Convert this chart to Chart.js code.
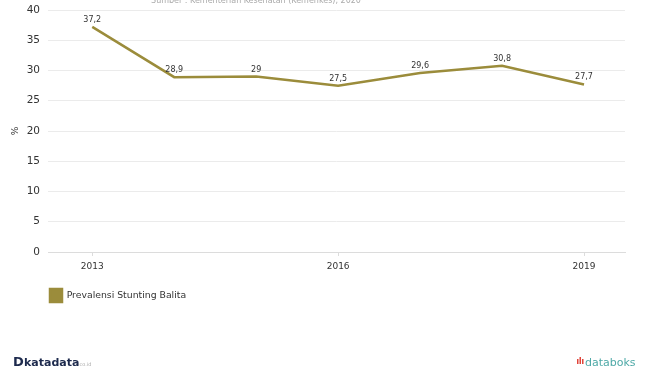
<!DOCTYPE html>
<html>
<head>
<meta charset="utf-8">
<script src="https://cdn.jsdelivr.net/npm/chart.js@4.4.1/dist/chart.umd.min.js"></script>
<style>
html,body{margin:0;padding:0;background:#fff;}
#wrap{width:653px;height:366px;position:relative;}
</style>
</head>
<body>
<div id="wrap"><canvas id="c" width="653" height="366"></canvas></div>
<script>
const years = [2013, 2014, 2015, 2016, 2017, 2018, 2019];
const stunting = [37.2, 28.9, 29, 27.5, 29.6, 30.8, 27.7];
const xTickYears = [2013, 2016, 2019];
const seriesLabel = 'Prevalensi Stunting Balita';
const sourceText = 'Sumber : Kementerian Kesehatan (Kemenkes), 2020';
const yUnit = '%';

const lineColor = '#9b8c3b';
const FONT = '"DejaVu Sans", Verdana, sans-serif';

const valueLabels = {
  id: 'valueLabels',
  afterDatasetsDraw(chart) {
    const ctx = chart.ctx;
    const meta = chart.getDatasetMeta(0);
    ctx.save();
    ctx.font = '8px ' + FONT;
    ctx.fillStyle = '#333';
    ctx.textAlign = 'center';
    ctx.textBaseline = 'bottom';
    meta.data.forEach((pt, i) => {
      const txt = String(chart.data.datasets[0].data[i].y).replace('.', ',');
      ctx.fillText(txt, pt.x, pt.y - 3);
    });
    ctx.restore();
  }
};

const legendShift = {
  id: 'legendShift',
  afterLayout(chart) {
    if (chart.legend) chart.legend.left = 40;
  }
};

const decor = {
  id: 'decor',
  afterDraw(chart) {
    const ctx = chart.ctx;
    ctx.save();
    // source line (cut at top)
    ctx.font = '8px ' + FONT;
    ctx.fillStyle = '#aaa';
    ctx.textAlign = 'center';
    ctx.textBaseline = 'alphabetic';
    ctx.fillText(sourceText, 256, 2.5);
    // y unit
    ctx.save();
    ctx.translate(16, 131);
    ctx.rotate(-Math.PI / 2);
    ctx.font = '9px ' + FONT;
    ctx.fillStyle = '#333';
    ctx.textAlign = 'center';
    ctx.textBaseline = 'middle';
    ctx.fillText(yUnit, 0, 0);
    ctx.restore();
    // katadata logo
    ctx.textBaseline = 'alphabetic';
    ctx.textAlign = 'left';
    ctx.fillStyle = '#1d2a4d';
    ctx.font = 'bold 13px ' + FONT;
    ctx.fillText('D', 13, 366);
    ctx.font = 'bold 11px ' + FONT;
    ctx.fillText('katadata', 24, 366);
    ctx.font = '5px ' + FONT;
    ctx.fillStyle = '#aaa';
    ctx.fillText('.co.id', 78, 366);
    // databoks logo
    ctx.fillStyle = '#e0453a';
    [[577, 359, 5], [579.5, 357, 7], [582, 359, 5]].forEach(b => ctx.fillRect(b[0], b[1], 1.5, b[2]));
    ctx.fillStyle = '#4ea9a7';
    ctx.font = '11px ' + FONT;
    ctx.fillText('databoks', 585, 366);
    ctx.restore();
  }
};

new Chart(document.getElementById('c'), {
  type: 'line',
  data: {
    datasets: [{
      label: seriesLabel,
      data: years.map((y, i) => ({ x: y, y: stunting[i] })),
      borderColor: lineColor,
      backgroundColor: lineColor,
      borderWidth: 2.5,
      pointRadius: 0,
      tension: 0,
      fill: false
    }]
  },
  options: {
    responsive: false,
    animation: false,
    devicePixelRatio: 1,
    layout: { padding: { top: 10, left: 0, right: 28, bottom: 54 } },
    plugins: {
      tooltip: { enabled: false },
      legend: {
        position: 'bottom',
        align: 'start',
        labels: {
          boxWidth: 12,
          boxHeight: 13,
          padding: 10,
          color: '#333',
          font: { family: FONT, size: 9.3 }
        }
      }
    },
    scales: {
      x: {
        type: 'linear',
        min: 2012.46,
        max: 2019.5,
        afterBuildTicks(scale) {
          scale.ticks = xTickYears.map(v => ({ value: v }));
        },
        afterFit(scale) { scale.height = 27; },
        grid: { drawOnChartArea: false, drawTicks: true, tickLength: 4, color: '#dcdcdc' },
        border: { color: '#dcdcdc' },
        ticks: {
          color: '#333',
          padding: 5,
          maxRotation: 0,
          font: { family: FONT, size: 9 },
          callback: v => String(v)
        }
      },
      y: {
        min: 0,
        max: 40,
        afterFit(scale) { scale.width = 48; scale.paddingTop = 0; scale.paddingBottom = 0; },
        ticks: {
          stepSize: 5,
          color: '#333',
          padding: 8,
          font: { family: FONT, size: 10.5 }
        },
        grid: { color: '#ebebeb', drawTicks: false },
        border: { display: false }
      }
    }
  },
  plugins: [valueLabels, legendShift, decor]
});
</script>
</body>
</html>
